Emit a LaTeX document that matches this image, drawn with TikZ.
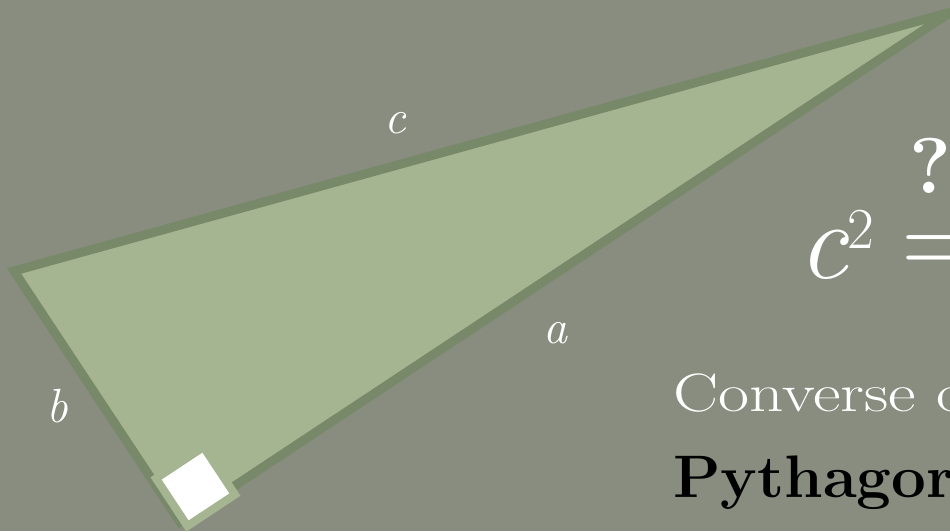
\documentclass[tikz,border=0pt]{standalone}
\usepackage{fontspec}
\definecolor{bgc}{RGB}{136,141,127}
\definecolor{trifill}{RGB}{165,181,145}
\definecolor{triedge}{RGB}{120,137,105}
\tikzset{
  lbl/.style={anchor=base west, inner sep=0pt, text=white, font=\fontsize{48}{48}\selectfont\itshape},
  bigtxt/.style={anchor=base west, inner sep=0pt, text=white}
}
\begin{document}
\begin{tikzpicture}[x=1pt,y=-1pt]
\useasboundingbox (0,0) rectangle (950,531);
\fill[bgc] (0,0) rectangle (950,531);
\coordinate (L) at (14,271);
\coordinate (T) at (951,12);
\coordinate (B) at (180,522);
\draw[line width=9pt, draw=triedge, fill=trifill] (L) -- (T) -- (B) -- cycle;
\node[draw=trifill, fill=white, line width=8pt, minimum size=57pt, inner sep=0pt, rotate=33.45] (sq) at (195.5,486.5) {};
\node[lbl] (lc) at (384,133) {c};
\node[lbl] (la) at (543,343) {a};
\node[lbl] (lb) at (46,422) {b};
\node[bigtxt] (eqc) at (798,278) {{\fontsize{110}{110}\selectfont\itshape c}\raisebox{30pt}{\fontsize{58}{58}\selectfont 2}};
\node[bigtxt] (eqs) at (901,276) {\fontsize{115}{115}\selectfont =};
\node[anchor=base, inner sep=0pt, text=white, font=\fontsize{79}{79}\selectfont\bfseries] (q) at (930,193) {?};
\node[bigtxt, xscale=1.25, font=\fontsize{54}{54}\selectfont] (conv) at (673,411) {Converse of};
\node[anchor=base west, inner sep=0pt, text=black, xscale=1.03, font=\fontsize{60}{60}\selectfont\bfseries] (pyth) at (673,497) {Pythagorean Theorem};
\end{tikzpicture}
\end{document}
